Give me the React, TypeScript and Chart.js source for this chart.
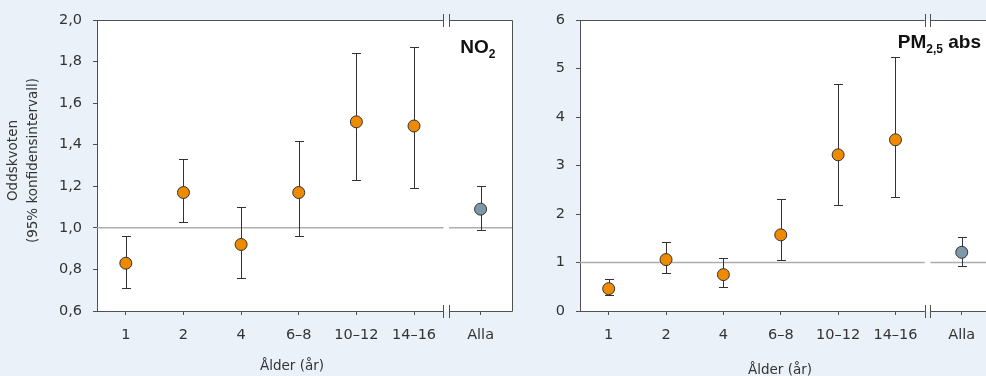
import React, { useEffect, useRef } from "react";
import { Chart, registerables } from "chart.js";

Chart.register(...registerables);

// ---- Data ----
const CATEGORIES = ["1", "2", "4", "6–8", "10–12", "14–16", "Alla"];

const NO2_OR = [0.83, 1.17, 0.92, 1.17, 1.51, 1.49, 1.09];
const NO2_LOW = [0.71, 1.03, 0.76, 0.96, 1.23, 1.19, 0.99];
const NO2_HIGH = [0.96, 1.33, 1.1, 1.42, 1.84, 1.87, 1.2];

const PM_OR = [0.46, 1.06, 0.75, 1.57, 3.22, 3.53, 1.21];
const PM_LOW = [0.32, 0.78, 0.5, 1.06, 2.19, 2.36, 0.93];
const PM_HIGH = [0.65, 1.43, 1.1, 2.31, 4.68, 5.24, 1.53];

const NO2_TICKS = [0.6, 0.8, 1.0, 1.2, 1.4, 1.6, 1.8, 2.0];
const PM_TICKS = [0, 1, 2, 3, 4, 5, 6];

const REFERENCE_VALUE = 1;
const X_AXIS_TITLE = "Ålder (år)";
const Y_AXIS_TITLE = ["Oddskvoten", "(95% konfidensintervall)"];

// ---- Styling / layout ----
const BG = "#ebf1f9";
const ORANGE = "#ee8a00";
const SLATE = "#7f98a8";
const INK = "#333333";
const AXIS = "#505050";
const TICK_FONT = '"DejaVu Sans", Verdana, sans-serif';
const LABEL_FONT = '"Liberation Sans", Arial, sans-serif';

const ALLA_POS = 7.155;
const BREAK_POS = 6.56;
const X_MIN = 0.5;
const X_MAX = 7.7;
const catPos = (i: number) => (i < CATEGORIES.length - 1 ? i + 1 : ALLA_POS);

type Part = { t: string; sub?: boolean };

type PanelCfg = {
  or: number[];
  low: number[];
  high: number[];
  ticks: number[];
  comma: boolean;
  canvasLeft: number;
  canvasWidth: number;
  padRight: number;
  yWidth: number;
  label: Part[];
  labelInset: number;
  labelBaseline: number;
  xTitleDx: number;
  xTitleY: number;
  yTitle: boolean;
};

const PANELS: PanelCfg[] = [
  {
    or: NO2_OR,
    low: NO2_LOW,
    high: NO2_HIGH,
    ticks: NO2_TICKS,
    comma: true,
    canvasLeft: 0,
    canvasWidth: 520,
    padRight: 8,
    yWidth: 97,
    label: [{ t: "NO" }, { t: "2", sub: true }],
    labelInset: 16.5,
    labelBaseline: 53,
    xTitleDx: -12.5,
    xTitleY: 366,
    yTitle: true,
  },
  {
    or: PM_OR,
    low: PM_LOW,
    high: PM_HIGH,
    ticks: PM_TICKS,
    comma: false,
    canvasLeft: 520,
    canvasWidth: 480,
    padRight: 5,
    yWidth: 60,
    label: [{ t: "PM" }, { t: "2,5", sub: true }, { t: " abs" }],
    labelInset: 12,
    labelBaseline: 48,
    xTitleDx: -6.5,
    xTitleY: 370,
    yTitle: false,
  },
];

function Panel({ cfg }: { cfg: PanelCfg }) {
  const ref = useRef<HTMLCanvasElement | null>(null);

  useEffect(() => {
    const canvas = ref.current;
    if (!canvas) return;
    const points = cfg.or.map((v, i) => ({ x: catPos(i), y: v }));
    const colors = cfg.or.map((_, i) => (i === CATEGORIES.length - 1 ? SLATE : ORANGE));

    const decor = {
      id: "panelDecor",
      beforeDraw(chart: any) {
        const { ctx, chartArea: a } = chart;
        ctx.save();
        ctx.fillStyle = "#ffffff";
        ctx.fillRect(a.left, a.top, a.right - a.left, a.bottom - a.top);
        ctx.restore();
      },
      beforeDatasetsDraw(chart: any) {
        const { ctx, chartArea: a, scales } = chart;
        const xs = scales.x;
        const ys = scales.y;
        const bx = xs.getPixelForValue(BREAK_POS);
        const gap = 2.8;
        ctx.save();
        // reference line
        const ry = ys.getPixelForValue(REFERENCE_VALUE);
        ctx.strokeStyle = "#adadad";
        ctx.lineWidth = 1.5;
        ctx.beginPath();
        ctx.moveTo(a.left, ry);
        ctx.lineTo(bx - gap, ry);
        ctx.moveTo(bx + gap, ry);
        ctx.lineTo(a.right, ry);
        ctx.stroke();
        // error bars
        ctx.strokeStyle = INK;
        ctx.lineWidth = 1;
        cfg.or.forEach((_, i) => {
          const px = Math.round(xs.getPixelForValue(catPos(i))) + 0.5;
          const yl = Math.round(ys.getPixelForValue(cfg.low[i])) + 0.5;
          const yh = Math.round(ys.getPixelForValue(cfg.high[i])) + 0.5;
          ctx.beginPath();
          ctx.moveTo(px, yl);
          ctx.lineTo(px, yh);
          ctx.moveTo(px - 4.5, yl);
          ctx.lineTo(px + 4.5, yl);
          ctx.moveTo(px - 4.5, yh);
          ctx.lineTo(px + 4.5, yh);
          ctx.stroke();
        });
        ctx.restore();
      },
      afterDraw(chart: any) {
        const { ctx, chartArea: a, scales } = chart;
        const xs = scales.x;
        const bx = xs.getPixelForValue(BREAK_POS);
        const gap = 2.8;
        ctx.save();
        ctx.strokeStyle = AXIS;
        ctx.lineWidth = 1;
        const right = Math.round(a.right) + 0.5;
        for (const yy of [a.top, a.bottom]) {
          const py = Math.round(yy) + 0.5;
          ctx.beginPath();
          ctx.moveTo(a.left, py);
          ctx.lineTo(bx - gap, py);
          ctx.moveTo(bx + gap, py);
          ctx.lineTo(right, py);
          ctx.moveTo(Math.round(bx - gap) + 0.5, py - 6.5);
          ctx.lineTo(Math.round(bx - gap) + 0.5, py + 6.5);
          ctx.moveTo(Math.round(bx + gap) + 0.5, py - 6.5);
          ctx.lineTo(Math.round(bx + gap) + 0.5, py + 6.5);
          ctx.stroke();
        }
        ctx.beginPath();
        ctx.moveTo(right, Math.round(a.top) + 0.5);
        ctx.lineTo(right, Math.round(a.bottom) + 0.5);
        ctx.stroke();

        // pollutant label
        const mainFont = `bold 19px ${LABEL_FONT}`;
        const subFont = `bold 12px ${LABEL_FONT}`;
        let total = 0;
        const widths = cfg.label.map((p) => {
          ctx.font = p.sub ? subFont : mainFont;
          const w = ctx.measureText(p.t).width;
          total += w;
          return w;
        });
        let lx = a.right - cfg.labelInset - total;
        ctx.fillStyle = "#111111";
        ctx.textAlign = "left";
        ctx.textBaseline = "alphabetic";
        cfg.label.forEach((p, i) => {
          ctx.font = p.sub ? subFont : mainFont;
          ctx.fillText(p.t, lx, cfg.labelBaseline + (p.sub ? 5 : 0));
          lx += widths[i];
        });

        // axis titles
        ctx.fillStyle = INK;
        ctx.font = `13.5px ${TICK_FONT}`;
        ctx.textAlign = "center";
        ctx.textBaseline = "middle";
        ctx.fillText(X_AXIS_TITLE, (a.left + a.right) / 2 + cfg.xTitleDx, cfg.xTitleY);
        if (cfg.yTitle) {
          const cy = (a.top + a.bottom) / 2 - 5;
          const xsPos = [a.left - 84, a.left - 64];
          Y_AXIS_TITLE.forEach((line, i) => {
            ctx.save();
            ctx.translate(xsPos[i], cy);
            ctx.rotate(-Math.PI / 2);
            ctx.fillText(line, 0, 0);
            ctx.restore();
          });
        }
        ctx.restore();
      },
    };

    const chart = new Chart(canvas, {
      type: "scatter",
      data: {
        datasets: [
          {
            data: points,
            pointBackgroundColor: colors,
            pointBorderColor: INK,
            pointBorderWidth: 1,
            pointRadius: 6,
            pointHoverRadius: 6,
          } as any,
        ],
      },
      options: {
        responsive: false,
        animation: false,
        events: [],
        layout: { padding: { left: 0, right: cfg.padRight, top: 20, bottom: 0 } },
        plugins: { legend: { display: false }, tooltip: { enabled: false } },
        scales: {
          x: {
            type: "linear",
            min: X_MIN,
            max: X_MAX,
            afterBuildTicks: (s: any) => {
              s.ticks = CATEGORIES.map((_, i) => ({ value: catPos(i) }));
            },
            afterFit: (s: any) => {
              s.height = 65;
            },
            border: { display: false },
            grid: { drawOnChartArea: false, drawTicks: true, tickLength: 4, color: AXIS },
            ticks: {
              padding: 12,
              color: INK,
              autoSkip: false,
              maxRotation: 0,
              font: { family: TICK_FONT, size: 14.5 },
              callback: (_v: any, i: number) => CATEGORIES[i],
            },
          },
          y: {
            type: "linear",
            min: cfg.ticks[0],
            max: cfg.ticks[cfg.ticks.length - 1],
            afterBuildTicks: (s: any) => {
              s.ticks = cfg.ticks.map((v) => ({ value: v }));
            },
            afterFit: (s: any) => {
              s.width = cfg.yWidth;
            },
            border: { display: true, color: AXIS, width: 1 },
            grid: { drawOnChartArea: false, drawTicks: true, tickLength: 4, color: AXIS },
            ticks: {
              padding: 11,
              color: INK,
              font: { family: TICK_FONT, size: 14.5 },
              callback: (v: any) =>
                cfg.comma ? Number(v).toFixed(1).replace(".", ",") : String(v),
            },
          },
        },
      } as any,
      plugins: [decor],
    });
    return () => chart.destroy();
  }, [cfg]);

  return (
    <canvas
      ref={ref}
      width={cfg.canvasWidth}
      height={376}
      style={{ position: "absolute", left: cfg.canvasLeft, top: 0, width: cfg.canvasWidth, height: 376 }}
    />
  );
}

export default function App() {
  return (
    <div
      style={{
        position: "fixed",
        left: 0,
        top: 0,
        width: 986,
        height: 376,
        overflow: "hidden",
        background: BG,
      }}
    >
      {PANELS.map((p, i) => (
        <Panel key={i} cfg={p} />
      ))}
    </div>
  );
}
